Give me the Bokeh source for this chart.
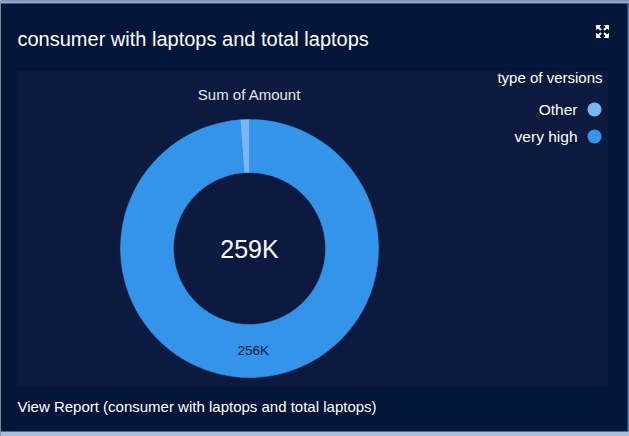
import math
from bokeh.plotting import figure
from bokeh.models import Range1d, ColumnDataSource
from bokeh.core.properties import value
from bokeh.embed import file_html
from bokeh.resources import INLINE

# ---- data ----
title_text = "consumer with laptops and total laptops"
footer_text = "View Report (consumer with laptops and total laptops)"
measure_label = "Sum of Amount"
legend_title = "type of versions"
categories = ["Other", "very high"]
amounts_k = [3, 256]          # thousands
colors = ["#79b7f3", "#3494ea"]

W, H = 629, 436
FONT = "Liberation Sans"

p = figure(width=W, height=H, output_backend="svg", toolbar_location=None,
           x_range=Range1d(0, W), y_range=Range1d(0, H),
           min_border=0, background_fill_color="#011639", border_fill_color="#011639")
p.axis.visible = False
p.grid.visible = False
p.outline_line_color = None

def Y(y):
    return H - y

# background strips and inner panel
p.quad(left=0, right=W, top=Y(0), bottom=Y(3), fill_color="#8ba7cf", line_color=None)
p.quad(left=0, right=W, top=Y(431), bottom=Y(436), fill_color="#a9bedb", line_color=None)
p.quad(left=627, right=W, top=Y(3), bottom=Y(431), fill_color="#5d77a0", line_color=None)
p.quad(left=16, right=608, top=Y(70), bottom=Y(386), fill_color="#0b1a3e", line_color=None)

# donut from data
total = sum(amounts_k)
starts, ends = [], []
a = math.pi / 2
for v in amounts_k:
    starts.append(a)
    a += 2 * math.pi * v / total
    ends.append(a)
cx, cy = 249, Y(248)
r_in, r_out = 76, 129
src = ColumnDataSource(dict(start=starts, end=ends, color=colors, cat=categories))
p.annular_wedge(x=cx, y=cy, inner_radius=r_in, outer_radius=r_out,
                start_angle="start", end_angle="end", fill_color="color",
                line_color="color", line_width=0.5, source=src)

# texts
p.text(x=[17], y=[Y(38)], text=[title_text], text_font=value(FONT), text_font_size="20px",
       text_color="#ffffff", text_baseline="middle", text_align="left")
p.text(x=[17], y=[Y(406)], text=[footer_text], text_font=value(FONT), text_font_size="15px",
       text_color="#ffffff", text_baseline="middle", text_align="left")
p.text(x=[cx], y=[Y(94)], text=[measure_label], text_font=value(FONT), text_font_size="15px",
       text_color="#e6e6e6", text_baseline="middle", text_align="center")
p.text(x=[cx], y=[cy], text=[f"{total}K"], text_font=value(FONT), text_font_size="25px",
       text_color="#ffffff", text_baseline="middle", text_align="center")
mid = (starts[1] + ends[1]) / 2
r_mid = (r_in + r_out) / 2
p.text(x=[cx + r_mid * math.cos(mid)], y=[cy + r_mid * math.sin(mid)],
       text=[f"{amounts_k[1]}K"], text_font=value(FONT), text_font_size="13.5px",
       text_color="#0b1a3e", text_baseline="middle", text_align="center")

# legend
p.text(x=[602], y=[Y(77)], text=[legend_title], text_font=value(FONT), text_font_size="15px",
       text_color="#ffffff", text_baseline="middle", text_align="right")
ly = [Y(109 + 27 * i) for i in range(len(categories))]
p.text(x=[577] * len(categories), y=ly, text=categories, text_font=value(FONT), text_font_size="15.5px",
       text_color="#ffffff", text_baseline="middle", text_align="right")
p.scatter(x=[594] * len(categories), y=ly, size=14, fill_color=colors, line_color=None)

# expand icon
ix, iy = 602, Y(31)
d = 6
for sx, sy in [(-1, 1), (1, 1), (-1, -1), (1, -1)]:
    p.segment(x0=ix + sx * 1.5, y0=iy + sy * 1.5, x1=ix + sx * d, y1=iy + sy * d,
              line_color="#ffffff", line_width=2)
    p.patch(x=[ix + sx * d, ix + sx * (d - 4), ix + sx * d],
            y=[iy + sy * d, iy + sy * d, iy + sy * (d - 4)],
            fill_color="#ffffff", line_color="#ffffff", line_width=1)

open("out.html", "w").write(file_html(p, INLINE))
